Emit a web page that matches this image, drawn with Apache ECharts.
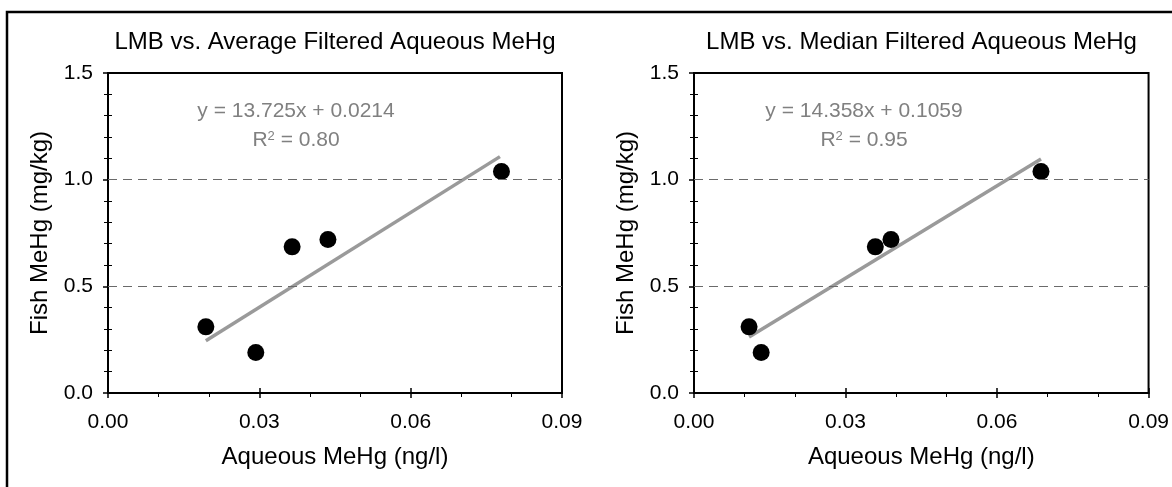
<!DOCTYPE html>
<html>
<head>
<meta charset="utf-8">
<script src="https://cdn.jsdelivr.net/npm/echarts@6/dist/echarts.min.js"></script>
<style>
html,body{margin:0;padding:0;background:#fff;}
#chart{width:1172px;height:487px;}
</style>
</head>
<body>
<div id="chart"></div>
<script>
// ---- data ----
var fishMeHg = [0.31, 0.19, 0.685, 0.72, 1.038];
var avgAqueous = [0.0194, 0.0293, 0.0365, 0.0436, 0.0780];
var medAqueous = [0.0109, 0.0133, 0.0359, 0.0390, 0.0687];
var avgTrend = [[0.0194, 0.245], [0.0777, 1.108]];
var medTrend = [[0.0109, 0.263], [0.0687, 1.097]];
var gridLevels = [0.5, 1.0];
var titles = ['LMB vs. Average Filtered Aqueous MeHg', 'LMB vs. Median Filtered Aqueous MeHg'];
var equations = ['y = 13.725x + 0.0214', 'y = 14.358x + 0.1059'];
var r2Values = ['0.80', '0.95'];
var xName = 'Aqueous MeHg (ng/l)';
var yName = 'Fish MeHg (mg/kg)';

var FONT = 'Liberation Sans, Arial, sans-serif';
function pairs(xs, ys){ return xs.map(function(x,i){ return [x, ys[i]]; }); }

var grids = [
  {left:108, top:73, width:454, height:320},
  {left:694, top:73, width:455, height:320}
];

var xAxes = [], yAxes = [];
grids.forEach(function(g, i){
  xAxes.push({
    type:'value', gridIndex:i, min:0, max:0.09, interval:0.03,
    name:xName, nameLocation:'middle', nameGap:52,
    nameTextStyle:{color:'#000', fontSize:24, fontFamily:FONT},
    axisLine:{show:true, lineStyle:{color:'#000', width:2}},
    axisTick:{show:true, inside:false, length:5, lineStyle:{color:'#000', width:1.5}},
    minorTick:{show:true, splitNumber:3, length:4, lineStyle:{color:'#000', width:1}},
    axisLabel:{color:'#000', fontSize:21, fontFamily:FONT, margin:19,
      formatter:function(v){ return v.toFixed(2); }},
    splitLine:{show:false}
  });
  xAxes.push({
    type:'value', gridIndex:i, min:0, max:0.09, interval:0.03, position:'bottom',
    axisLine:{show:false},
    axisTick:{show:true, inside:true, length:5, lineStyle:{color:'#000', width:1.5}},
    axisLabel:{show:false}, splitLine:{show:false}
  });
  yAxes.push({
    type:'value', gridIndex:i, min:0, max:1.5, interval:0.5,
    name:yName, nameLocation:'middle', nameGap:56,
    nameTextStyle:{color:'#000', fontSize:24, fontFamily:FONT},
    axisLine:{show:true, lineStyle:{color:'#000', width:2}},
    axisTick:{show:true, inside:false, length:5, lineStyle:{color:'#000', width:1.5}},
    minorTick:{show:true, splitNumber:5, length:4, lineStyle:{color:'#000', width:1}},
    axisLabel:{color:'#000', fontSize:21, fontFamily:FONT, margin:15,
      formatter:function(v){ return v.toFixed(1); }},
    splitLine:{show:false}
  });
  yAxes.push({
    type:'value', gridIndex:i, min:0, max:1.5, interval:0.1, position:'left',
    axisLine:{show:false},
    axisTick:{show:true, inside:true, length:4, lineStyle:{color:'#000', width:1}},
    axisLabel:{show:false}, splitLine:{show:false}
  });
});

function gridMarkLine(){
  return {silent:true, symbol:'none', label:{show:false},
    lineStyle:{color:'#6a6a6a', width:1.2, type:[9,6]},
    data: gridLevels.map(function(v){ return {yAxis:v}; })};
}

var series = [
  {type:'line', xAxisIndex:0, yAxisIndex:0, data:avgTrend, symbol:'none',
   lineStyle:{color:'#9a9a9a', width:3.5}, z:2, silent:true, markLine:gridMarkLine()},
  {type:'scatter', xAxisIndex:0, yAxisIndex:0, data:pairs(avgAqueous, fishMeHg),
   symbolSize:17, itemStyle:{color:'#000', opacity:1}, z:3},
  {type:'line', xAxisIndex:2, yAxisIndex:2, data:medTrend, symbol:'none',
   lineStyle:{color:'#9a9a9a', width:3.5}, z:2, silent:true, markLine:gridMarkLine()},
  {type:'scatter', xAxisIndex:2, yAxisIndex:2, data:pairs(medAqueous, fishMeHg),
   symbolSize:17, itemStyle:{color:'#000', opacity:1}, z:3}
];

var eqPos = [[296, 111], [864, 111]];
var graphics = [{
  type:'rect', shape:{x:7, y:12, width:1200, height:520},
  style:{fill:'none', stroke:'#000', lineWidth:2.5}, silent:true
}];
eqPos.forEach(function(p, i){
  graphics.push({type:'text', x:p[0], y:p[1],
    style:{text:equations[i], fill:'#808080', font:'21px ' + FONT, textAlign:'center', textVerticalAlign:'middle'}});
  graphics.push({type:'text', x:p[0], y:p[1] + 29,
    style:{text:'R{s|2} = ' + r2Values[i], fill:'#808080', font:'21px ' + FONT,
      textAlign:'center', textVerticalAlign:'middle',
      rich:{s:{fontSize:13, fontFamily:FONT, fill:'#808080', verticalAlign:'top', padding:[0,0,8,0]}}}});
});

var chart = echarts.init(document.getElementById('chart'), null, {renderer:'canvas'});
chart.setOption({
  animation:false,
  backgroundColor:'#fff',
  title: titles.map(function(t, i){
    return {text:t, left: grids[i].left + grids[i].width/2, top:30, textAlign:'center', padding:0,
      textStyle:{color:'#000', fontSize:24, fontWeight:'normal', fontFamily:FONT}};
  }),
  grid: grids.map(function(g){ return Object.assign({show:true, borderColor:'#000', borderWidth:2, backgroundColor:'transparent'}, g); }),
  xAxis: xAxes,
  yAxis: yAxes,
  series: series,
  graphic: graphics
});
</script>
</body>
</html>
